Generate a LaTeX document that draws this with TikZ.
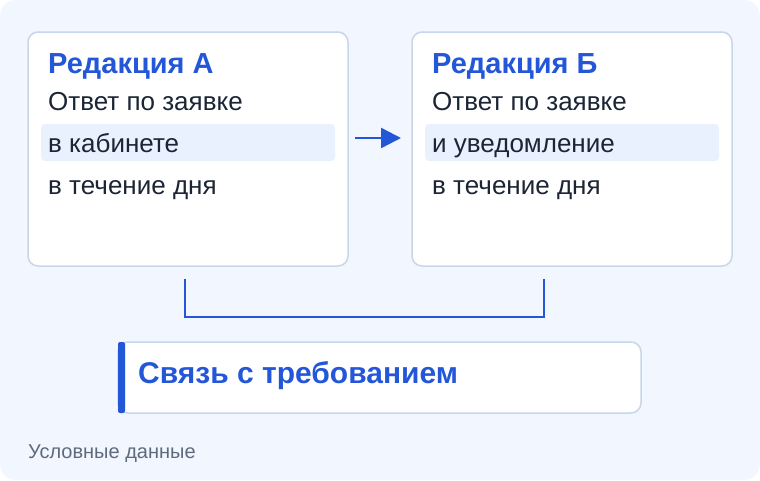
\documentclass[tikz,border=0pt]{standalone}
\usepackage{fontspec}
\setmainfont{Liberation Sans}
\usetikzlibrary{arrows.meta}
\definecolor{bgc}{HTML}{F2F6FE}
\definecolor{edgec}{HTML}{C8D6EA}
\definecolor{bluec}{HTML}{2457D8}
\definecolor{textc}{HTML}{1B2535}
\definecolor{hlc}{HTML}{EAF1FE}
\definecolor{grayc}{HTML}{5F6B7D}
\tikzset{
  card/.style={draw=edgec, line width=1.5pt, fill=white, rounded corners=10pt},
  ttl/.style={anchor=base west, inner sep=0pt, text=bluec, font=\fontsize{29}{33}\selectfont\bfseries},
  body/.style={anchor=base west, inner sep=0pt, text=textc, font=\fontsize{26}{30}\selectfont},
  hl/.style={fill=hlc, rounded corners=4pt},
  conn/.style={draw=bluec, line width=2.5pt},
}
\begin{document}
\begin{tikzpicture}[x=1pt,y=-1pt]
\useasboundingbox (0,0) rectangle (760,480);
\fill[white] (0,0) rectangle (760,480);
\fill[bgc, rounded corners=16pt] (0,0) rectangle (760,480);
% cards
\draw[card] (28,32) rectangle (348,266);
\draw[card] (412,32) rectangle (732,266);
% highlights
\fill[hl] (41,124) rectangle (335,161);
\fill[hl] (425,124) rectangle (719,161);
% texts A
\node[ttl] (ta) at (48,73) {Редакция А};
\node[body] (a1) at (48,110) {Ответ по заявке};
\node[body] (a2) at (48,152) {в кабинете};
\node[body] (a3) at (48,194) {в течение дня};
% texts B
\node[ttl] (tb) at (432,73) {Редакция Б};
\node[body] (b1) at (432,110) {Ответ по заявке};
\node[body] (b2) at (432,152) {и уведомление};
\node[body] (b3) at (432,194) {в течение дня};
% arrow
\coordinate (ars) at (355,138);
\coordinate (are) at (401,138);
\draw[conn, -{Triangle[length=20pt,width=20pt]}] (ars) -- (are);
% bracket
\coordinate (k1) at (185,279);
\coordinate (k2) at (544,279);
\draw[conn] (k1) |- (364,317) -| (k2);
% bottom card
\draw[card] (118,342) rectangle (641,413);
\fill[bluec, rounded corners=2pt] (118,342) rectangle (125,413);
\node[ttl, font=\fontsize{30}{34}\selectfont\bfseries] (tc) at (138,383) {Связь с требованием};
% footer
\node[anchor=base west, inner sep=0pt, text=grayc, font=\fontsize{20}{24}\selectfont] (ft) at (28,458) {Условные данные};
\end{tikzpicture}
\end{document}
